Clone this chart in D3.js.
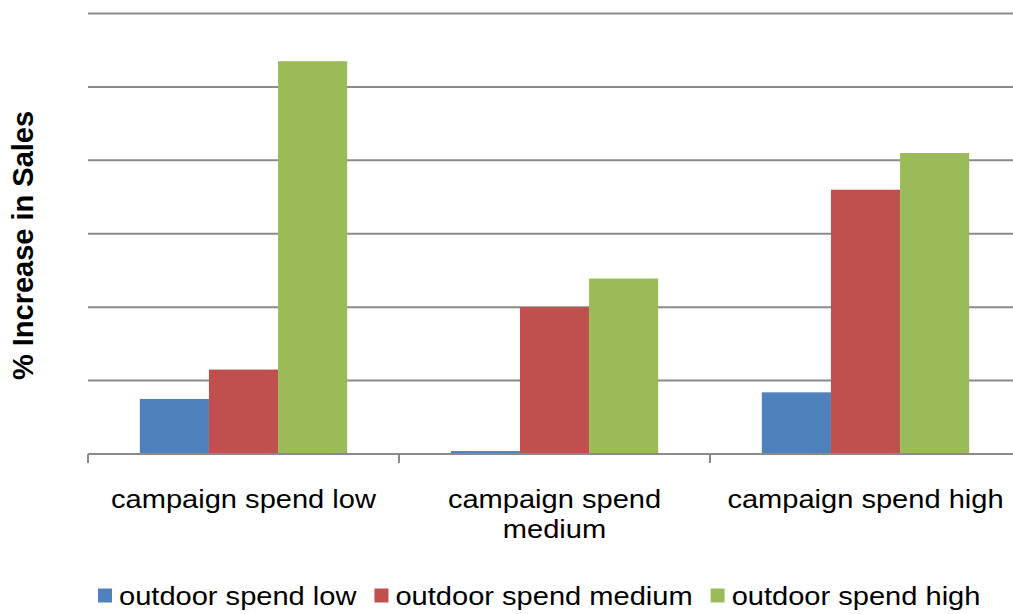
<!DOCTYPE html>
<html>
<head>
<meta charset="utf-8">
<script src="https://cdn.jsdelivr.net/npm/d3@7"></script>
<style>
  html, body { margin: 0; padding: 0; background: #fff; }
  svg { display: block; font-family: "Liberation Sans", Arial, sans-serif; }
</style>
</head>
<body>
<svg id="chart" width="1013" height="614"></svg>
<script>
// ---- data ----
const categories = ["campaign spend low", "campaign spend medium", "campaign spend high"];
const seriesNames = ["outdoor spend low", "outdoor spend medium", "outdoor spend high"];
const outdoorLow    = [0.75, 0.04, 0.84];
const outdoorMedium = [1.15, 2.00, 3.60];
const outdoorHigh   = [5.35, 2.39, 4.10];
const seriesValues = [outdoorLow, outdoorMedium, outdoorHigh];
const yTicks = [0, 1, 2, 3, 4, 5, 6];
const colors = ["#4F81BD", "#C0504D", "#9BBB59"];

// ---- layout ----
const svg = d3.select("#chart");
const plotLeft = 88, plotRight = 1021, plotTop = 13.5, plotBottom = 454;
const textScale = 1.14, fontSize = 25.5;

const x0 = d3.scaleBand().domain(categories).range([plotLeft, plotRight]).paddingInner(0).paddingOuter(0);
const x1 = d3.scaleBand().domain(seriesNames).range([0, x0.bandwidth()]).paddingInner(0).paddingOuter(0.75);
const y = d3.scaleLinear().domain([0, 6]).range([plotBottom, plotTop]);

// gridlines
svg.append("g").selectAll("line")
  .data(yTicks.filter(d => d > 0))
  .join("line")
  .attr("x1", plotLeft).attr("x2", plotRight)
  .attr("y1", d => y(d)).attr("y2", d => y(d))
  .attr("stroke", "#8a8a8a").attr("stroke-width", 2);

// bars
const rows = categories.map((c, i) => ({cat: c, vals: seriesNames.map((s, j) => ({s, j, v: seriesValues[j][i]}))}));
const g = svg.append("g").selectAll("g").data(rows).join("g")
  .attr("transform", d => `translate(${x0(d.cat)},0)`);
g.selectAll("rect").data(d => d.vals).join("rect")
  .attr("x", d => x1(d.s))
  .attr("width", x1.bandwidth())
  .attr("y", d => y(d.v))
  .attr("height", d => y(0) - y(d.v))
  .attr("fill", d => colors[d.j]);

// x axis
const xAxis = svg.append("g");
xAxis.append("line").attr("x1", plotLeft).attr("x2", plotRight).attr("y1", y(0)).attr("y2", y(0))
  .attr("stroke", "#8a8a8a").attr("stroke-width", 2);
xAxis.selectAll("line.tick").data(categories.concat(["_end"])).join("line").attr("class", "tick")
  .attr("x1", (d, i) => i < categories.length ? x0(d) : plotRight)
  .attr("x2", (d, i) => i < categories.length ? x0(d) : plotRight)
  .attr("y1", y(0)).attr("y2", y(0) + 9)
  .attr("stroke", "#8a8a8a").attr("stroke-width", 2);

// category labels with wrapping
categories.forEach(cat => {
  const cx = x0(cat) + x0.bandwidth() / 2;
  const t = svg.append("text")
    .attr("transform", `translate(${cx},507.5) scale(${textScale},1)`)
    .attr("text-anchor", "middle")
    .attr("font-size", fontSize)
    .attr("fill", "#000");
  const words = cat.split(" ");
  let line = [], lineNo = 0;
  let tspan = t.append("tspan").attr("x", 0).attr("y", 0);
  words.forEach(w => {
    line.push(w);
    tspan.text(line.join(" "));
    if (tspan.node().getComputedTextLength() * textScale > x0.bandwidth() - 4 && line.length > 1) {
      line.pop();
      tspan.text(line.join(" "));
      line = [w];
      lineNo++;
      tspan = t.append("tspan").attr("x", 0).attr("y", lineNo * 30.5).text(w);
    }
  });
});

// y axis title
svg.append("text")
  .attr("transform", "translate(33,245.5) rotate(-90)")
  .attr("text-anchor", "middle")
  .attr("font-size", 29)
  .attr("font-weight", "bold")
  .attr("fill", "#000")
  .text("% Increase in Sales");

// legend
const legend = svg.append("g");
let lx = 98;
seriesNames.forEach((s, j) => {
  legend.append("rect").attr("x", lx).attr("y", 588.5).attr("width", 14).attr("height", 14).attr("fill", colors[j]);
  const tx = lx + 21;
  const t = legend.append("text")
    .attr("transform", `translate(${tx},604.5) scale(${textScale},1)`)
    .attr("font-size", fontSize)
    .attr("fill", "#000")
    .text(s);
  lx = tx + t.node().getComputedTextLength() * textScale + 18;
});
</script>
</body>
</html>
